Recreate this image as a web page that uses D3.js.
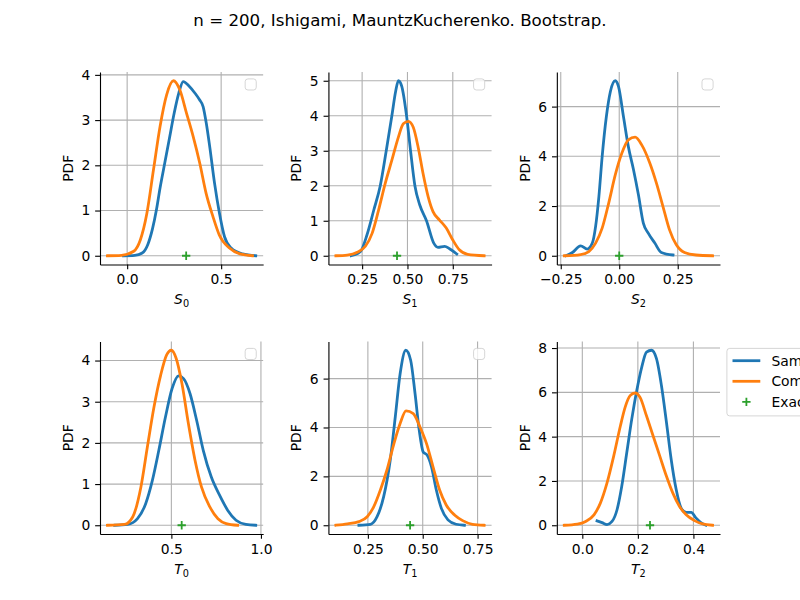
<!DOCTYPE html>
<html><head><meta charset="utf-8">
<script src="https://cdn.jsdelivr.net/npm/d3@7"></script>
<style>body{margin:0;background:#fff} text{font-family:"DejaVu Sans",sans-serif;fill:#000}</style>
</head><body><svg id="chart" width="800" height="600"></svg>
<script>
const titleText = "n = 200, Ishigami, MauntzKucherenko. Bootstrap.";
const seriesNames = ["Sample", "Computed", "Exact"];
const seriesColors = ["#1f77b4", "#ff7f0e", "#2ca02c"];
const panelSymbols = ["S", "S", "S", "T", "T", "T"];
const panelIndices = ["0", "1", "2", "0", "1", "2"];
const exactValues = [0.3139, 0.4424, 0.0, 0.5576, 0.4424, 0.2437];

// S0
const s0SampleX = [-0.02, 0.04, 0.08, 0.11, 0.135, 0.155, 0.175, 0.2, 0.225, 0.25, 0.275, 0.298, 0.33, 0.36, 0.385, 0.404, 0.421, 0.439, 0.465, 0.491, 0.518, 0.553, 0.614, 0.684];
const s0SampleY = [0, 0.01, 0.06, 0.25, 0.6, 1.0, 1.5, 2.05, 2.6, 3.15, 3.6, 3.85, 3.75, 3.6, 3.45, 3.3, 2.93, 2.42, 1.6, 0.94, 0.42, 0.17, 0.04, 0];
const s0ComputedX = [-0.105, -0.03, 0.035, 0.07, 0.105, 0.14, 0.175, 0.21, 0.246, 0.28, 0.316, 0.351, 0.386, 0.42, 0.456, 0.49, 0.544, 0.6, 0.667];
const s0ComputedY = [0, 0.01, 0.1, 0.35, 0.94, 1.9, 2.86, 3.56, 3.87, 3.67, 3.15, 2.64, 2.05, 1.38, 0.87, 0.46, 0.17, 0.04, 0];
// S1
const s1SampleX = [0.19, 0.241, 0.277, 0.314, 0.35, 0.383, 0.414, 0.435, 0.45, 0.468, 0.495, 0.517, 0.541, 0.568, 0.605, 0.645, 0.668, 0.705, 0.732, 0.772];
const s1SampleY = [0, 0.12, 0.6, 1.3, 2.0, 3.0, 4.0, 4.7, 5.0, 4.85, 4.0, 3.0, 2.0, 1.45, 1.0, 0.36, 0.24, 0.27, 0.2, 0.05];
const s1ComputedX = [0.105, 0.168, 0.223, 0.268, 0.305, 0.341, 0.377, 0.414, 0.45, 0.477, 0.505, 0.532, 0.559, 0.586, 0.614, 0.641, 0.677, 0.714, 0.75, 0.786, 0.832, 0.923];
const s1ComputedY = [0, 0.02, 0.1, 0.27, 0.64, 1.31, 2.06, 2.73, 3.39, 3.77, 3.84, 3.67, 3.1, 2.35, 1.69, 1.26, 1.02, 0.79, 0.45, 0.17, 0.04, 0];
// S2
const s2SampleX = [-0.228, -0.2, -0.165, -0.137, -0.115, -0.101, -0.087, -0.073, -0.055, -0.038, -0.017, -0.003, 0.018, 0.039, 0.061, 0.082, 0.103, 0.124, 0.152, 0.18, 0.23];
const s2SampleY = [0, 0.13, 0.4, 0.27, 0.51, 1.18, 2.38, 3.99, 5.6, 6.6, 7.04, 6.8, 5.6, 4.39, 3.46, 2.45, 1.31, 0.91, 0.51, 0.13, 0.03];
const s2ComputedX = [-0.235, -0.165, -0.13, -0.101, -0.073, -0.045, -0.017, 0.011, 0.039, 0.068, 0.096, 0.131, 0.159, 0.187, 0.215, 0.244, 0.279, 0.328, 0.399];
const s2ComputedY = [0, 0.05, 0.17, 0.51, 1.11, 2.12, 3.25, 4.12, 4.66, 4.77, 4.46, 3.72, 2.92, 1.98, 1.04, 0.44, 0.13, 0.03, 0];
// T0
const t0SampleX = [0.183, 0.256, 0.311, 0.357, 0.394, 0.43, 0.467, 0.504, 0.54, 0.568, 0.604, 0.641, 0.678, 0.723, 0.769, 0.815, 0.861, 0.916, 0.971];
const t0SampleY = [0, 0.02, 0.16, 0.53, 1.09, 1.82, 2.63, 3.32, 3.63, 3.56, 3.2, 2.55, 1.82, 1.17, 0.73, 0.36, 0.12, 0.02, 0];
const t0ComputedX = [0.143, 0.238, 0.284, 0.33, 0.366, 0.403, 0.44, 0.473, 0.5, 0.527, 0.559, 0.595, 0.632, 0.668, 0.714, 0.76, 0.806, 0.87];
const t0ComputedY = [0, 0.02, 0.2, 0.93, 1.9, 2.87, 3.64, 4.13, 4.25, 4.05, 3.44, 2.47, 1.58, 0.93, 0.45, 0.16, 0.04, 0];
// T1
const t1SampleX = [0.209, 0.262, 0.292, 0.322, 0.352, 0.375, 0.397, 0.423, 0.445, 0.465, 0.484, 0.502, 0.52, 0.54, 0.562, 0.585, 0.615, 0.652, 0.69];
const t1SampleY = [0, 0.04, 0.35, 1.17, 2.67, 4.44, 6.2, 7.16, 6.75, 5.39, 3.89, 3.0, 2.87, 2.39, 1.44, 0.69, 0.22, 0.04, 0];
const t1ComputedX = [0.104, 0.157, 0.209, 0.247, 0.277, 0.307, 0.337, 0.367, 0.397, 0.424, 0.457, 0.487, 0.517, 0.547, 0.577, 0.607, 0.645, 0.682, 0.727, 0.78];
const t1ComputedY = [0, 0.06, 0.15, 0.35, 0.76, 1.44, 2.26, 3.28, 4.16, 4.68, 4.57, 4.03, 3.35, 2.39, 1.44, 0.83, 0.42, 0.19, 0.04, 0];
// T2
const t2SampleX = [0.053, 0.071, 0.089, 0.107, 0.125, 0.142, 0.16, 0.178, 0.196, 0.214, 0.231, 0.249, 0.267, 0.285, 0.303, 0.32, 0.338, 0.356, 0.374, 0.392, 0.41, 0.427, 0.445];
const t2SampleY = [0.2, 0.12, 0.03, 0.17, 0.7, 1.76, 3.27, 4.79, 6.08, 7.14, 7.82, 7.9, 7.52, 6.3, 4.64, 2.97, 1.61, 0.77, 0.58, 0.58, 0.32, 0.12, 0];
const t2ComputedX = [-0.065, -0.018, 0.012, 0.042, 0.065, 0.089, 0.113, 0.137, 0.154, 0.172, 0.19, 0.208, 0.231, 0.255, 0.279, 0.303, 0.326, 0.35, 0.374, 0.404, 0.433, 0.469];
const t2ComputedY = [0, 0.05, 0.17, 0.47, 1.0, 1.91, 3.12, 4.48, 5.32, 5.85, 5.97, 5.77, 4.94, 4.03, 3.12, 2.21, 1.45, 0.85, 0.47, 0.21, 0.06, 0];

// ticks
const xTickValues = [[0, 0.5], [0.25, 0.5, 0.75], [-0.25, 0, 0.25], [0.5, 1.0], [0.25, 0.5, 0.75], [0, 0.2, 0.4]];
const xTickLabels = [["0.0", "0.5"], ["0.25", "0.50", "0.75"], ["\u22120.25", "0.00", "0.25"], ["0.5", "1.0"], ["0.25", "0.50", "0.75"], ["0.0", "0.2", "0.4"]];
const yTickValues = [[0, 1, 2, 3, 4], [0, 1, 2, 3, 4, 5], [0, 2, 4, 6], [0, 1, 2, 3, 4], [0, 2, 4, 6], [0, 2, 4, 6, 8]];
const yLabel = "PDF";

const sampleXs = [s0SampleX, s1SampleX, s2SampleX, t0SampleX, t1SampleX, t2SampleX];
const sampleYs = [s0SampleY, s1SampleY, s2SampleY, t0SampleY, t1SampleY, t2SampleY];
const computedXs = [s0ComputedX, s1ComputedX, s2ComputedX, t0ComputedX, t1ComputedX, t2ComputedX];
const computedYs = [s0ComputedY, s1ComputedY, s2ComputedY, t0ComputedY, t1ComputedY, t2ComputedY];

const svg = d3.select("#chart");
const PT = 100 / 72;
const FS = 10 * PT;
const figL = 100, figR = 720, figT = 72, figB = 534;
const ws = 0.4, hs = 0.4;
const pw = (figR - figL) / (3 + 2 * ws);
const ph = (figB - figT) / (2 + hs);

svg.append("rect").attr("width", 800).attr("height", 600).attr("fill", "#fff");
svg.append("text").attr("x", 400).attr("y", 26).attr("text-anchor", "middle")
  .style("font-size", (12 * PT) + "px").text(titleText);

function pad(ext) { const r = ext[1] - ext[0]; return [ext[0] - 0.05 * r, ext[1] + 0.05 * r]; }

const lineGen = d3.line().curve(d3.curveMonotoneX);
const plusPath = s => `M${-s/2},0H${s/2}M0,${-s/2}V${s/2}`;

for (let i = 0; i < 6; i++) {
  const c = i % 3, r = Math.floor(i / 3);
  const x0 = figL + c * pw * (1 + ws);
  const y0 = figT + r * ph * (1 + hs);
  const g = svg.append("g").attr("transform", `translate(${x0},${y0})`);

  const sample = sampleXs[i].map((x, k) => [x, sampleYs[i][k]]);
  const computed = computedXs[i].map((x, k) => [x, computedYs[i][k]]);
  const allX = sampleXs[i].concat(computedXs[i], [exactValues[i]]);
  const allY = sampleYs[i].concat(computedYs[i], [0]);
  const xs = d3.scaleLinear().domain(pad(d3.extent(allX))).range([0, pw]);
  const ys = d3.scaleLinear().domain(pad(d3.extent(allY))).range([ph, 0]);

  // grid
  const grid = g.append("g").attr("stroke", "#b0b0b0").attr("stroke-width", 0.8 * PT);
  xTickValues[i].forEach(v => grid.append("line").attr("x1", xs(v)).attr("x2", xs(v)).attr("y1", 0).attr("y2", ph));
  yTickValues[i].forEach(v => grid.append("line").attr("y1", ys(v)).attr("y2", ys(v)).attr("x1", 0).attr("x2", pw));

  // axes
  const xa = g.append("g").attr("transform", `translate(0,${ph})`)
    .call(d3.axisBottom(xs).tickValues(xTickValues[i]).tickFormat((d, k) => xTickLabels[i][k])
      .tickSize(3.5 * PT).tickPadding(3.5 * PT).tickSizeOuter(0));
  const ya = g.append("g")
    .call(d3.axisLeft(ys).tickValues(yTickValues[i]).tickFormat(d => String(d))
      .tickSize(3.5 * PT).tickPadding(3.5 * PT).tickSizeOuter(0));
  [xa, ya].forEach(a => {
    a.selectAll("path,line").attr("stroke", "#000").attr("stroke-width", 0.8 * PT);
    a.selectAll("text").style("font-size", FS + "px").style("font-family", "DejaVu Sans").attr("fill", "#000");
  });

  // curves
  g.append("path").datum(sample).attr("d", d => lineGen(d.map(p => [xs(p[0]), ys(p[1])])))
    .attr("fill", "none").attr("stroke", seriesColors[0]).attr("stroke-width", 2 * PT)
    .attr("stroke-linejoin", "round").attr("stroke-linecap", "square");
  g.append("path").datum(computed).attr("d", d => lineGen(d.map(p => [xs(p[0]), ys(p[1])])))
    .attr("fill", "none").attr("stroke", seriesColors[1]).attr("stroke-width", 2 * PT)
    .attr("stroke-linejoin", "round").attr("stroke-linecap", "square");
  g.append("path").attr("transform", `translate(${xs(exactValues[i])},${ys(0)})`)
    .attr("d", plusPath(6 * PT)).attr("stroke", seriesColors[2]).attr("stroke-width", 1.8).attr("fill", "none");

  // labels
  g.append("text").attr("transform", `translate(-27,${ph / 2}) rotate(-90)`).attr("text-anchor", "middle")
    .style("font-size", FS + "px").text(yLabel);
  const xl = g.append("text").attr("x", pw / 2).attr("y", ph + 39.5).attr("text-anchor", "middle")
    .style("font-size", FS + "px");
  xl.append("tspan").style("font-style", "italic").text(panelSymbols[i]);
  xl.append("tspan").attr("dy", 3).style("font-size", (FS * 0.7) + "px").text(panelIndices[i]);

  // legends
  if (i < 5) {
    const s = 11.1;
    g.append("rect").attr("x", pw - 6.9 - s).attr("y", 6.9).attr("width", s).attr("height", s)
      .attr("rx", 2.8).attr("fill", "#fff").attr("fill-opacity", 0.8)
      .attr("stroke", "#cccccc").attr("stroke-opacity", 0.8).attr("stroke-width", 1);
  } else {
    const lg = g.append("g").attr("transform", `translate(${pw + 6.9},6.9)`);
    lg.append("rect").attr("x", 0).attr("y", 0).attr("width", 130).attr("height", 67.5)
      .attr("rx", 2.8).attr("fill", "#fff").attr("fill-opacity", 0.8)
      .attr("stroke", "#cccccc").attr("stroke-opacity", 0.8).attr("stroke-width", 1);
    const rowY = [12.3, 32.9, 53.5];
    seriesNames.forEach((name, k) => {
      if (k < 2) {
        lg.append("line").attr("x1", 5.6).attr("x2", 5.6 + 27.8).attr("y1", rowY[k]).attr("y2", rowY[k])
          .attr("stroke", seriesColors[k]).attr("stroke-width", 2 * PT);
      } else {
        lg.append("path").attr("transform", `translate(${5.6 + 13.9},${rowY[k]})`).attr("d", plusPath(6 * PT))
          .attr("stroke", seriesColors[k]).attr("stroke-width", 1.8).attr("fill", "none");
      }
      lg.append("text").attr("x", 5.6 + 27.8 + 11.1).attr("y", rowY[k] + 5).style("font-size", FS + "px").text(name);
    });
  }
}
</script></body></html>
